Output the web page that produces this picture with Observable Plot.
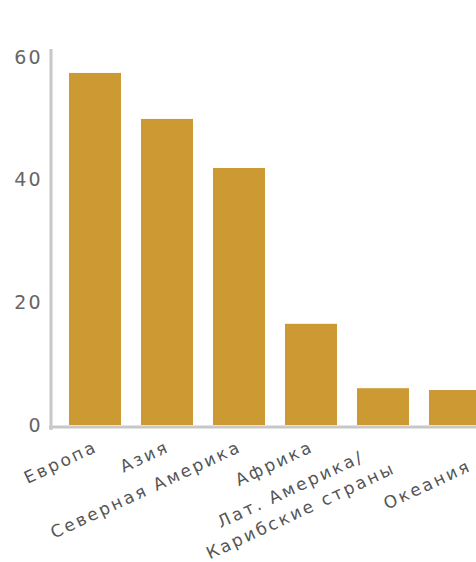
<!DOCTYPE html>
<html>
<head>
<meta charset="utf-8">
<script src="https://cdn.jsdelivr.net/npm/d3@7"></script>
<script src="https://cdn.jsdelivr.net/npm/@observablehq/plot@0.6"></script>
<style>
  html, body { margin: 0; padding: 0; background: #fff; overflow: hidden; width: 476px; height: 562px; }
  #chart svg { display: block; max-width: none !important; width: 520px !important; height: 562px !important; }
  g[aria-label="x-axis tick label"] text { letter-spacing: 2.5px; }
  g[aria-label="y-axis tick label"] text { letter-spacing: 2px; }
</style>
</head>
<body>
<div id="chart"></div>
<script>
const regions = ["Европа", "Азия", "Северная Америка", "Африка", "Лат. Америка/\nКарибские страны", "Океания"];
const values = [57.4, 49.9, 41.9, 16.5, 6.0, 5.7];
const yTicks = [0, 20, 40, 60];

const data = regions.map((r, i) => ({region: r, value: values[i]}));

const labelStyle = {tickSize: 0, tickRotate: -25, textAnchor: "end", lineAnchor: "top", lineHeight: 1.4,
  tickPadding: 10, fontSize: 17, fill: "#555", stroke: "#555", strokeWidth: 0.3, label: null};

const chart = Plot.plot({
  width: 520,
  height: 562,
  marginTop: 57,
  marginBottom: 137,
  marginLeft: 52,
  marginRight: 23,
  style: {fontFamily: "DejaVu Sans, Verdana, sans-serif", background: "#fff"},
  x: {domain: regions, paddingInner: 0.283, paddingOuter: 0.207, label: null},
  y: {domain: [0, 60], ticks: yTicks, label: null},
  marks: [
    Plot.barY(data, {x: "region", y: "value", fill: "#cc9933"}),
    Plot.frame({anchor: "left", stroke: "#c8c8c8", strokeWidth: 3, insetLeft: -1.5, insetTop: -7, insetBottom: -3}),
    Plot.ruleY([0], {stroke: "#c8c8c8", strokeWidth: 3, insetLeft: -3, dy: 1.5}),
    Plot.axisY({ticks: yTicks, tickSize: 0, tickPadding: 10, fontSize: 19, fill: "#666", label: null}),
    Plot.axisX({...labelStyle, ticks: regions.slice(0, 5), dx: -4}),
    // last label is staggered down by the chart to avoid overlapping its neighbour
    Plot.axisX({...labelStyle, ticks: regions.slice(5), dx: 10, dy: 19})
  ]
});
document.getElementById("chart").appendChild(chart);

// multi-line labels: lines centred within the block, block's right edge at the tick
d3.select(chart).selectAll('g[aria-label="x-axis tick label"] text').each(function() {
  const spans = d3.select(this).selectAll("tspan");
  if (spans.size() < 2) return;
  let w = 0;
  spans.each(function() { w = Math.max(w, this.getComputedTextLength()); });
  d3.select(this).attr("text-anchor", "middle");
  spans.attr("x", -w / 2);
});
</script>
</body>
</html>
